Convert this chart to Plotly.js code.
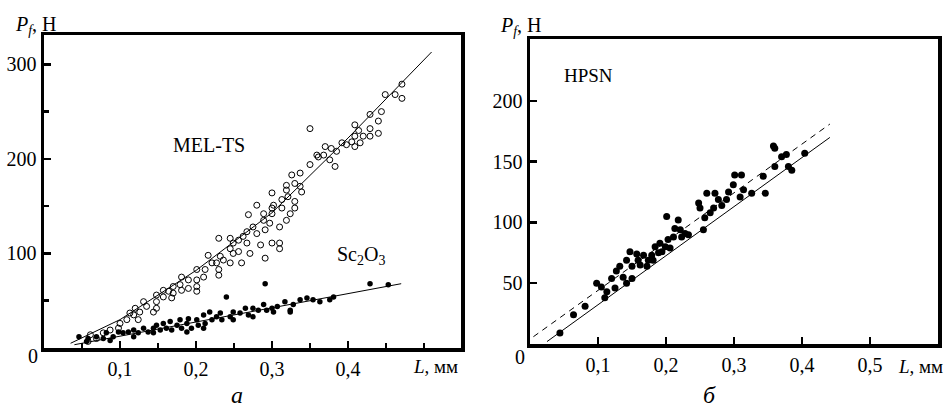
<!DOCTYPE html>
<html><head><meta charset="utf-8">
<script src="https://cdn.plot.ly/plotly-3.0.1.min.js"></script>
<style>html,body{margin:0;padding:0;background:#fff}#c{width:947px;height:410px}</style>
</head><body><div id="c"></div>
<script>
// ---- Panel a: MEL-TS (open circles) ----
const melL = [0.471,0.462,0.471,0.449,0.429,0.444,0.440,0.429,0.440,0.429,0.409,0.414,0.420,0.409,0.405,0.416,0.398,0.409,0.350,0.392,0.385,0.378,0.370,0.368,0.361,0.359,0.383,0.376,0.350,0.337,0.326,0.330,0.339,0.319,0.319,0.313,0.321,0.330,0.330,0.300,0.313,0.319,0.310,0.300,0.300,0.289,0.280,0.289,0.291,0.297,0.300,0.310,0.310,0.291,0.269,0.275,0.267,0.280,0.262,0.256,0.249,0.267,0.245,0.256,0.249,0.245,0.260,0.245,0.232,0.230,0.236,0.227,0.230,0.230,0.216,0.221,0.212,0.201,0.210,0.201,0.201,0.201,0.190,0.190,0.181,0.179,0.170,0.170,0.168,0.157,0.157,0.148,0.148,0.144,0.135,0.131,0.126,0.120,0.118,0.113,0.109,0.100,0.098,0.087,0.078,0.061,0.069,0.058,0.181,0.164,0.148,0.124,0.271,0.285,0.302,0.324,0.337];
const melP = [279,268,264,268,247,250,240,232,227,224,236,230,224,224,218,217,215,213,232,217,208,211,213,204,202,204,192,199,194,185,183,174,165,172,167,157,160,155,148,164,148,135,128,148,142,142,151,135,125,132,111,111,105,95,141,128,123,121,118,114,111,111,105,102,100,116,90,90,97,116,93,90,83,77,98,90,83,83,75,72,65,60,72,63,75,67,65,58,53,61,54,56,49,38,44,49,38,42,35,37,30,26,21,19,16,14,10,7,61,60,42,30,100,109,151,142,171];
const melFitL = [0.035,0.1,0.2,0.3,0.4,0.51];
const melFitP = [5,30,82,143,222,313];

// ---- Panel a: Sc2O3 (filled dots) ----
const scL = [0.291,0.240,0.429,0.453,0.046,0.058,0.056,0.069,0.078,0.082,0.091,0.098,0.104,0.111,0.118,0.124,0.131,0.137,0.144,0.148,0.153,0.157,0.161,0.166,0.168,0.175,0.179,0.181,0.188,0.190,0.194,0.201,0.203,0.210,0.212,0.218,0.221,0.227,0.232,0.234,0.245,0.249,0.258,0.265,0.269,0.275,0.282,0.289,0.293,0.302,0.307,0.317,0.324,0.328,0.337,0.346,0.354,0.363,0.376,0.381,0.118,0.087,0.144,0.188,0.210,0.249,0.275,0.300,0.324];
const scP = [68,54,68,67,12,10,7,12,10,16,12,17,16,17,19,16,21,17,21,24,19,26,21,28,19,24,30,21,26,31,21,30,24,35,26,38,30,33,37,30,33,38,37,42,35,42,40,46,40,38,44,49,40,46,51,53,51,49,51,54,12,8,16,17,21,30,33,42,38];
const scFitL = [0.04,0.47];
const scFitP = [3.5,68];

// ---- Panel б: HPSN ----
const hpL = [0.044,0.064,0.081,0.098,0.105,0.110,0.113,0.120,0.125,0.127,0.132,0.137,0.142,0.142,0.147,0.150,0.150,0.157,0.159,0.167,0.172,0.174,0.179,0.184,0.189,0.194,0.199,0.201,0.203,0.206,0.211,0.213,0.218,0.221,0.223,0.228,0.233,0.248,0.250,0.255,0.257,0.260,0.265,0.270,0.272,0.277,0.282,0.289,0.292,0.299,0.301,0.309,0.311,0.314,0.326,0.343,0.346,0.358,0.360,0.370,0.377,0.380,0.385,0.404,0.360,0.181,0.162,0.191];
const hpP = [9,24,31,50,47,38,43,54,46,60,64,55,69,50,76,64,54,74,69,73,64,69,73,80,75,76,80,105,86,79,88,95,102,94,88,91,90,116,112,94,104,124,108,112,124,119,114,119,125,131,139,121,139,127,124,138,124,163,146,154,156,146,143,157,161,69,65,83];
const hpFitL = [0.025,0.441];
const hpFitP = [2,170];
const hpDashL = [0.005,0.441];
const hpDashP = [6,181];

// ---- Tick labels ----
const aXTicks = [0.1,0.2,0.3,0.4];
const aXText = ['0,1','0,2','0,3','0,4'];
const aXMinor = [0.05,0.15,0.25,0.35,0.45,0.5];
const aYTicks = [100,200,300];
const aYText = ['100','200','300'];
const aYMinor = [50,150,250];
const bXTicks = [0.1,0.2,0.3,0.4,0.5];
const bXText = ['0,1','0,2','0,3','0,4','0,5'];
const bYTicks = [50,100,150,200];
const bYText = ['50','100','150','200'];

const F = 'Liberation Serif, Times New Roman, serif';
const black = '#000000';

const traces = [
  {x: melFitL, y: melFitP, mode:'lines', line:{color:black,width:1}, xaxis:'x', yaxis:'y', hoverinfo:'skip'},
  {x: scFitL, y: scFitP, mode:'lines', line:{color:black,width:1}, xaxis:'x', yaxis:'y', hoverinfo:'skip'},
  {x: melL, y: melP, mode:'markers', marker:{symbol:'circle-open', size:6, color:black, line:{width:1,color:black}}, xaxis:'x', yaxis:'y'},
  {x: scL, y: scP, mode:'markers', marker:{symbol:'circle', size:5.5, color:black}, xaxis:'x', yaxis:'y'},
  {x: hpDashL, y: hpDashP, mode:'lines', line:{color:black,width:1,dash:'6px,5px'}, xaxis:'x2', yaxis:'y2', hoverinfo:'skip'},
  {x: hpFitL, y: hpFitP, mode:'lines', line:{color:black,width:1}, xaxis:'x2', yaxis:'y2', hoverinfo:'skip'},
  {x: hpL, y: hpP, mode:'markers', marker:{symbol:'circle', size:7, color:black}, xaxis:'x2', yaxis:'y2'}
];

const axBase = {showline:true, mirror:true, linecolor:black, linewidth:3.5, showgrid:false, zeroline:false,
  ticks:'inside', ticklen:7, tickwidth:2.5, tickcolor:black, tickfont:{family:F, size:20, color:black}};

function ann(x, y, text, size, ya){ return {xref:'paper', yref:'paper', x:x/947, y:1-y/410, xanchor:'center', yanchor:ya||'middle', text:text, showarrow:false, font:{family:F,size:size,color:black}}; }

const layout = {
  width:947, height:410, margin:{l:0,r:0,t:0,b:0}, showlegend:false,
  xaxis: Object.assign({}, axBase, {domain:[44/947, 461/947], range:[0,0.5487], tickvals:aXTicks, ticktext:aXText,
     minor:{tickvals:aXMinor, ticks:'inside', ticklen:5, tickwidth:2.5, tickcolor:black}}),
  yaxis: Object.assign({}, axBase, {domain:[62/410, 375/410], range:[0,331], tickvals:aYTicks, ticktext:aYText,
     minor:{tickvals:aYMinor, ticks:'inside', ticklen:5, tickwidth:2.5, tickcolor:black}}),
  xaxis2: Object.assign({}, axBase, {domain:[530/947, 938/947], range:[0,0.6], tickvals:bXTicks, ticktext:bXText, anchor:'y2'}),
  yaxis2: Object.assign({}, axBase, {domain:[66/410, 371/410], range:[0,251], tickvals:bYTicks, ticktext:bYText, anchor:'x2'}),
  annotations: [
    ann(36, 25, '<i>P<sub>f</sub></i>, Н', 20),
    ann(521, 26, '<i>P<sub>f</sub></i>, Н', 20),
    ann(33, 356, '0', 20),
    ann(520, 357, '0', 20),
    ann(435, 366, '<i>L</i>, мм', 19),
    ann(920, 366, '<i>L</i>, мм', 19),
    ann(209, 145, 'MEL-TS', 20),
    ann(361, 255, 'Sc<sub>2</sub>O<sub>3</sub>', 20),
    ann(588, 76, 'HPSN', 19),
    ann(237, 410, '<i>а</i>', 24, 'bottom'),
    ann(709, 410, '<i>б</i>', 24, 'bottom')
  ]
};
Plotly.newPlot('c', traces, layout, {staticPlot:true});
</script></body></html>
